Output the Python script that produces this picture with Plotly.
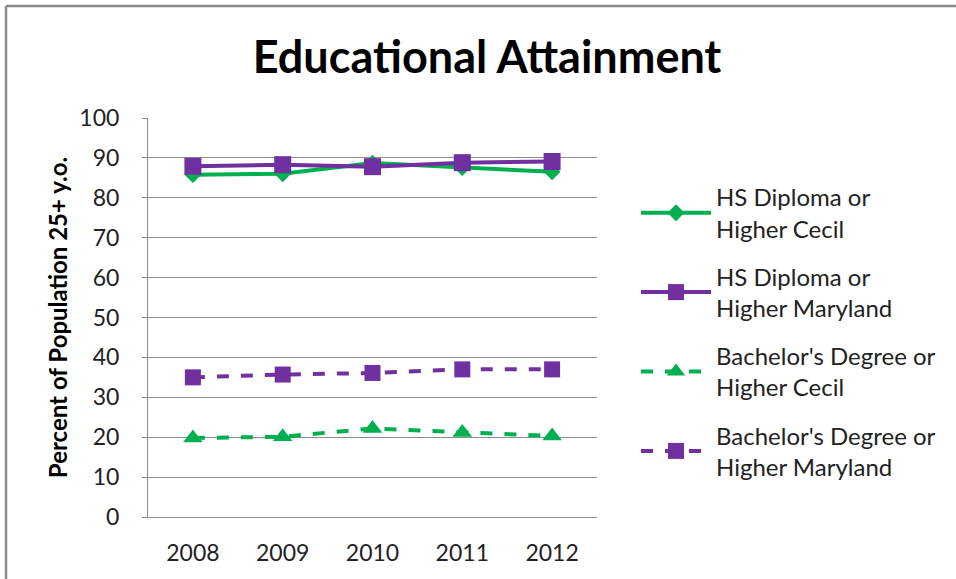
import plotly.graph_objects as go

years = ["2008", "2009", "2010", "2011", "2012"]
hs_cecil = [85.8, 86.0, 88.7, 87.6, 86.5]
hs_maryland = [87.9, 88.3, 87.8, 88.8, 89.1]
ba_cecil = [19.8, 20.1, 22.2, 21.2, 20.3]
ba_maryland = [35.0, 35.7, 36.1, 37.0, 37.0]
y_ticks = [0, 10, 20, 30, 40, 50, 60, 70, 80, 90, 100]

GREEN = "#00B050"
PURPLE = "#7030A0"
FONT = "Lato"

W, H = 956, 579
L, R, T, B = 148, 359, 118, 62
pw, ph = W - L - R, H - T - B

fig = go.Figure()
series = [
    ("HS Diploma or<br>Higher Cecil", hs_cecil, GREEN, "solid", "diamond", 13),
    ("HS Diploma or<br>Higher Maryland", hs_maryland, PURPLE, "solid", "square", 17),
    ("Bachelor's Degree or<br>Higher Cecil", ba_cecil, GREEN, "dash", "triangle-up", 17),
    ("Bachelor's Degree or<br>Higher Maryland", ba_maryland, PURPLE, "dash", "square", 16),
]
for i, (name, vals, col, dash, sym, sz) in enumerate(series):
    fig.add_trace(go.Scatter(
        x=years, y=vals, name=name, mode="lines+markers",
        line=dict(color=col, width=4, dash=dash),
        marker=dict(color=col, symbol=sym, size=sz),
        legendgroup=str(i),
    ))

def px_x(p):
    return (p - L) / pw

def px_y(p):
    return (H - B - p) / ph

fig.update_layout(
    width=W, height=H,
    margin=dict(l=L, r=R, t=T, b=B),
    paper_bgcolor="white", plot_bgcolor="white",
    title=dict(text="<b>Educational Attainment</b>", x=487 / W, xanchor="center",
               xref="container", y=1 - 57 / H, yanchor="middle",
               font=dict(family=FONT, size=45, color="black")),
    font=dict(family=FONT, color="#222"),
    xaxis=dict(type="category", showgrid=False, showline=True, linecolor="#8c8c8c",
               linewidth=1, ticks="", tickfont=dict(size=23, color="#222"),
               range=[-0.5, 4.5], ticklabelstandoff=15, automargin=False),
    yaxis=dict(range=[0, 100], tickvals=y_ticks, showgrid=True, gridcolor="#8c8c8c",
               gridwidth=1, showline=True, linecolor="#8c8c8c", linewidth=1,
               ticks="outside", ticklen=5, tickcolor="#8c8c8c", zeroline=False,
               tickfont=dict(size=23, color="#222"), ticklabelstandoff=18,
               automargin=False,
               title=dict(text="<b>Percent of Population 25+ y.o.</b>",
                          font=dict(size=24, color="black"), standoff=4)),
    legend=dict(x=px_x(636), y=px_y(175), xanchor="left", yanchor="top",
                font=dict(size=24, color="#222"), tracegroupgap=14,
                itemwidth=70, bgcolor="rgba(0,0,0,0)"),
    shapes=[
        dict(type="line", xref="paper", yref="paper", x0=px_x(6), x1=px_x(960),
             y0=px_y(6), y1=px_y(6), line=dict(color="#8a8a8a", width=2.5)),
        dict(type="line", xref="paper", yref="paper", x0=px_x(6), x1=px_x(6),
             y0=px_y(6), y1=px_y(585), line=dict(color="#8a8a8a", width=2.5)),
    ],
)

fig.write_html("out.html")
